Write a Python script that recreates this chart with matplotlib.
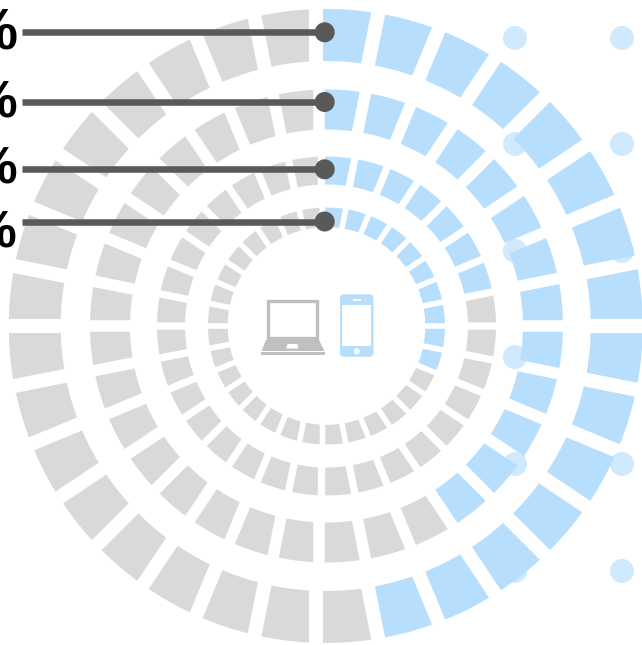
import numpy as np
import matplotlib
matplotlib.use("Agg")
import matplotlib.pyplot as plt
from matplotlib.patches import Polygon, Circle, Rectangle, FancyBboxPatch

# blue segments per ring, outer ring first, out of 32
total_segments = 32
blue_counts = [15, 13, 7, 10]
labels = ["47%", "41%", "22%", "31%"]

# ring geometry in pixels
ring_cx = [325.75, 326.5, 326.5, 326.5]
outer_radius = [317, 236.5, 169.5, 118.5]
inner_radius = [265, 196.5, 141.5, 98.8]
gap_width = [14, 11.5, 7.4, 5.6]
ray_x = [316, 319, 321.5, 322.5]
line_y = [32.3, 102, 169.3, 221.5]
label_y = [50, 117, 183, 247]
label_size = [41, 37, 37, 37]
dot_x = [515, 622]
dot_y = [38, 144, 251, 357, 464, 571]

cy = 326
blue = "#b7dffd"
grey = "#d9d9d9"
dark = "#595959"


def edge_angle(theta, ring, offset, r):
    # where a gap edge, parallel to the ray at theta, meets the ring's circle
    ux, uy = np.sin(theta), -np.cos(theta)
    nx, ny = np.cos(theta), np.sin(theta)
    dx = ray_x[ring] + offset * nx - ring_cx[ring]
    dy = offset * ny
    b = dx * ux + dy * uy
    c = dx * dx + dy * dy - r * r
    t = -b + np.sqrt(b * b - c)
    return np.arctan2(dy + t * uy, dx + t * ux)


def segment(k, ring):
    step = 2 * np.pi / total_segments
    t0, t1 = k * step, (k + 1) * step
    w = gap_width[ring] / 2
    pts = []
    for r, first, second in ((outer_radius[ring], (t0, w), (t1, -w)),
                             (inner_radius[ring], (t1, -w), (t0, w))):
        a0 = edge_angle(first[0], ring, first[1], r)
        a1 = edge_angle(second[0], ring, second[1], r)
        # keep the arc short when arctan2 wraps round
        d = (a1 - a0 + np.pi) % (2 * np.pi) - np.pi
        for a in np.linspace(a0, a0 + d, 16):
            pts.append((ring_cx[ring] + r * np.cos(a), cy + r * np.sin(a)))
    return pts


fig = plt.figure(figsize=(6.42, 6.45), dpi=100)
ax = fig.add_axes([0, 0, 1, 1])
ax.set_xlim(0, 642)
ax.set_ylim(645, 0)
ax.axis("off")

for x in dot_x:
    for y in dot_y:
        ax.add_patch(Circle((x, y), 12, color="#d0e9fd", lw=0, zorder=1))

for ring in range(len(blue_counts)):
    for k in range(total_segments):
        colour = blue if k < blue_counts[ring] else grey
        ax.add_patch(Polygon(segment(k, ring), closed=True, color=colour, lw=0, zorder=2))

for i in range(len(labels)):
    ax.plot([22, 325], [line_y[i], line_y[i]], color=dark, lw=4.7, solid_capstyle="butt", zorder=3)
    ax.add_patch(Circle((324.7, line_y[i]), 10, color=dark, lw=0, zorder=4))
    ax.text(18, label_y[i], labels[i], ha="right", va="baseline", color="black",
            fontsize=label_size[i], fontweight="bold",
            family=["Liberation Sans Narrow", "Liberation Sans"], zorder=5)

# laptop icon
laptop = "#bfbfbf"
ax.add_patch(Rectangle((268.4, 300.6), 48.6, 37, fill=False, ec=laptop, lw=2.4, zorder=3))
ax.add_patch(Polygon([(266, 340), (319, 340), (324.5, 351), (261.5, 351)], color=laptop, lw=0, zorder=3))
ax.add_patch(Polygon([(287.5, 344), (297.5, 344), (298.5, 348.5), (286, 348.5)], color="white", lw=0, zorder=3))
ax.add_patch(Rectangle((261, 352.2), 64, 2.6, color=laptop, lw=0, zorder=3))

# phone icon
ax.add_patch(FancyBboxPatch((344, 298.3), 25.5, 54.5, boxstyle="round,pad=4,rounding_size=4",
                            color=blue, lw=0, zorder=3))
ax.add_patch(Rectangle((342.3, 305), 29, 40.7, color="white", lw=0, zorder=3))
ax.add_patch(Rectangle((352.5, 299), 8, 2.2, color="white", lw=0, zorder=3))
ax.add_patch(Circle((356.7, 351.3), 3, color="white", lw=0, zorder=3))

fig.savefig("out.png", dpi=100)
